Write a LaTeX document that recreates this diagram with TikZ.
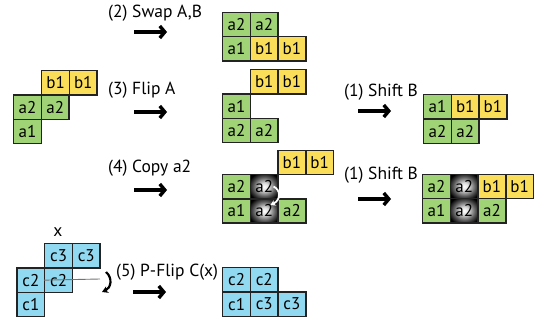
\documentclass[tikz,border=0pt]{standalone}
\usepackage{fontspec}
\setmainfont{PT Sans}
\usetikzlibrary{arrows.meta}
\definecolor{cg}{RGB}{160,210,118}
\definecolor{cy}{RGB}{250,222,90}
\definecolor{cb}{RGB}{145,217,240}
\definecolor{bd}{RGB}{35,35,35}
\pgfdeclareradialshading{ball}{\pgfpoint{0bp}{0bp}}{color(0bp)=(white); color(7bp)=(white!88!black); color(20bp)=(black!65); color(30bp)=(black); color(50bp)=(black)}
\begin{document}
\begin{tikzpicture}[x=1pt,y=-1pt,
  cell/.style={draw=bd, line width=1.4pt, minimum width=27.7pt, minimum height=24.3pt, inner sep=0pt, anchor=north west, font=\fontsize{17}{17}\selectfont},
  ga/.style={cell, fill=cg},
  yb/.style={cell, fill=cy},
  bc/.style={cell, fill=cb},
  dk/.style={cell, shading=ball},
  lbl/.style={font=\fontsize{17.5}{19}\selectfont, inner sep=0pt},
  bigarrow/.style={line width=3.4pt, -{Straight Barb[length=5pt,width=12pt]}}
]
\useasboundingbox (0,0) rectangle (542,324);

% initial configuration
\node[yb] (L1) at (41,70) {b1};
\node[yb] (L2) at (68.7,70) {b1};
\node[ga] (L3) at (13,94.3) {a2};
\node[ga] (L4) at (40.7,94.3) {a2};
\node[ga] (L5) at (13,118.6) {a1};

% (2) swap
\node[lbl, anchor=west] (t2) at (108,13) {(2) Swap A,B};
\coordinate (s2a) at (134,32); \coordinate (s2b) at (167,32);
\draw[bigarrow] (s2a) -- (s2b);
\node[ga] (S1) at (222,11.5) {a2};
\node[ga] (S2) at (249.7,11.5) {a2};
\node[ga] (S3) at (222,35.8) {a1};
\node[yb] (S4) at (249.7,35.8) {b1};
\node[yb] (S5) at (277.4,35.8) {b1};

% (3) flip
\node[lbl, anchor=west] (t3) at (108,90) {(3) Flip A};
\coordinate (s3a) at (134,112); \coordinate (s3b) at (167,112);
\draw[bigarrow] (s3a) -- (s3b);
\node[yb] (F1) at (249.7,69) {b1};
\node[yb] (F2) at (277.4,69) {b1};
\node[ga] (F3) at (222,93.3) {a1};
\node[ga] (F4) at (222,117.6) {a2};
\node[ga] (F5) at (249.7,117.6) {a2};

% (1) shift after flip
\node[lbl, anchor=west] (t1a) at (344,92) {(1) Shift B};
\coordinate (s1a) at (358,111); \coordinate (s1b) at (391,111);
\draw[bigarrow] (s1a) -- (s1b);
\node[ga] (H1) at (423,94) {a1};
\node[yb] (H2) at (450.7,94) {b1};
\node[yb] (H3) at (478.4,94) {b1};
\node[ga] (H4) at (423,118.3) {a2};
\node[ga] (H5) at (450.7,118.3) {a2};

% (4) copy
\node[lbl, anchor=west] (t4) at (108,168) {(4) Copy a2};
\coordinate (s4a) at (134,190); \coordinate (s4b) at (167,190);
\draw[bigarrow] (s4a) -- (s4b);
\node[yb] (C1) at (277.4,149.5) {b1};
\node[yb] (C2) at (305.1,149.5) {b1};
\node[ga] (C3) at (222,173.8) {a2};
\node[dk] (C4) at (249.7,173.8) {a2};
\node[ga] (C5) at (222,198.1) {a1};
\node[dk] (C6) at (249.7,198.1) {a2};
\node[ga] (C7) at (277.4,198.1) {a2};
\coordinate (w1) at (273.5,186.5); \coordinate (w2) at (270.5,205);
\draw[white, line width=1.8pt, -{Stealth[length=5pt,width=6pt]}] (w1) .. controls (281,190) and (281,200) .. (w2);

% (1) shift after copy
\node[lbl, anchor=west] (t1b) at (344,175) {(1) Shift B};
\coordinate (s5a) at (358,199); \coordinate (s5b) at (391,199);
\draw[bigarrow] (s5a) -- (s5b);
\node[ga] (K1) at (422,173.5) {a2};
\node[dk] (K2) at (449.7,173.5) {a2};
\node[yb] (K3) at (477.4,173.5) {b1};
\node[yb] (K4) at (505.1,173.5) {b1};
\node[ga] (K5) at (422,197.8) {a1};
\node[dk] (K6) at (449.7,197.8) {a2};
\node[ga] (K7) at (477.4,197.8) {a2};

% (5) P-flip
\node[lbl] (xl) at (58,232) {x};
\node[bc] (P1) at (44,243) {c3};
\node[bc] (P2) at (71.7,243) {c3};
\node[bc] (P3) at (16.3,267.3) {c2};
\node[bc] (P4) at (44,267.3) {c2};
\node[bc] (P5) at (16.3,291.6) {c1};
\coordinate (ax) at (100,279);
\draw[black!55, line width=0.9pt] (P4.west) -- (ax);
\coordinate (r1) at (106,272); \coordinate (r2) at (102,292);
\draw[line width=2.2pt, -{Stealth[length=6pt,width=7pt]}] (r1) .. controls (113,278) and (111,288) .. (r2);
\node[lbl, anchor=west] (t5) at (116,272) {(5) P-Flip C(x)};
\coordinate (s6a) at (133,292); \coordinate (s6b) at (166,292);
\draw[bigarrow] (s6a) -- (s6b);
\node[bc] (Q1) at (222,267) {c2};
\node[bc] (Q2) at (249.7,267) {c2};
\node[bc] (Q3) at (222,291.3) {c1};
\node[bc] (Q4) at (249.7,291.3) {c3};
\node[bc] (Q5) at (277.4,291.3) {c3};
\end{tikzpicture}
\end{document}
